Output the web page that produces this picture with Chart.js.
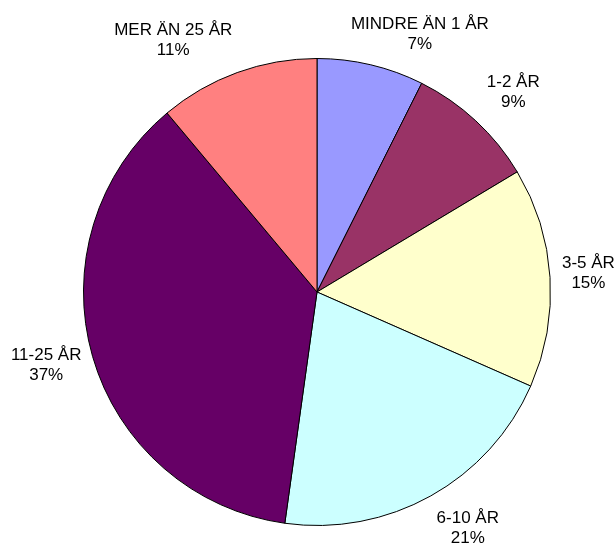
<!DOCTYPE html>
<html>
<head>
<meta charset="utf-8">
<script src="https://cdn.jsdelivr.net/npm/chart.js@4/dist/chart.umd.min.js"></script>
<style>
  html, body { margin: 0; padding: 0; background: #fff; }
  #wrap { width: 614px; height: 547px; position: relative; }
</style>
</head>
<body>
<div id="wrap"><canvas id="chart"></canvas></div>
<script>
// Age groups and their shares
const categories = ['MINDRE ÄN 1 ÅR', '1-2 ÅR', '3-5 ÅR', '6-10 ÅR', '11-25 ÅR', 'MER ÄN 25 ÅR'];
const shares = [7.4, 9.0, 15.2, 20.6, 36.7, 11.1];
const sliceColors = ['#9999FF', '#993366', '#FFFFCC', '#CCFFFF', '#660066', '#FF8080'];

// Outside labels: category on first line, percent below
const outsideLabels = {
    id: 'outsideLabels',
    afterDatasetsDraw(chart, args, opts) {
        const ctx = chart.ctx;
        const meta = chart.getDatasetMeta(0);
        const total = shares.reduce((a, b) => a + b, 0);
        ctx.save();
        ctx.font = opts.font;
        ctx.fillStyle = opts.color;
        ctx.textAlign = 'center';
        ctx.textBaseline = 'middle';
        meta.data.forEach((arc, i) => {
            const mid = (arc.startAngle + arc.endAngle) / 2;
            const ux = Math.cos(mid);
            const uy = Math.sin(mid);
            const rad = arc.outerRadius + opts.gap;
            const lines = [categories[i], Math.round(shares[i] / total * 100) + '%'];
            const w = Math.max(...lines.map(t => ctx.measureText(t).width));
            const h = opts.lineHeight * lines.length;
            const nudge = opts.nudge[i] || [0, 0];
            const x = arc.x + ux * rad + ux * w / 2 + nudge[0];
            const y = arc.y + uy * rad + uy * h / 2 * 0.85 + nudge[1];
            lines.forEach((t, k) => {
                ctx.fillText(t, x, y + (k - (lines.length - 1) / 2) * opts.lineHeight);
            });
        });
        ctx.restore();
    }
};

function init() {
    const ctx = document.getElementById('chart').getContext('2d');
    new Chart(ctx, {
        type: 'pie',
        data: {
            labels: categories,
            datasets: [{
                data: shares,
                backgroundColor: sliceColors,
                borderColor: '#000000',
                borderWidth: 1
            }]
        },
        options: {
            responsive: true,
            maintainAspectRatio: false,
            animation: false,
            layout: { padding: { top: 58, bottom: 21, left: 83, right: 63 } },
            plugins: {
                legend: { display: false },
                tooltip: { enabled: false },
                outsideLabels: {
                    font: '17px "Liberation Sans", Arial, sans-serif',
                    color: '#000000',
                    lineHeight: 20,
                    gap: 14,
                    nudge: [[30, 0], [10, -6], [-2, -2], [15, 5], [1, 0], [-39, -3]]
                }
            }
        },
        plugins: [outsideLabels]
    });
}

document.addEventListener('DOMContentLoaded', init);
</script>
</body>
</html>
